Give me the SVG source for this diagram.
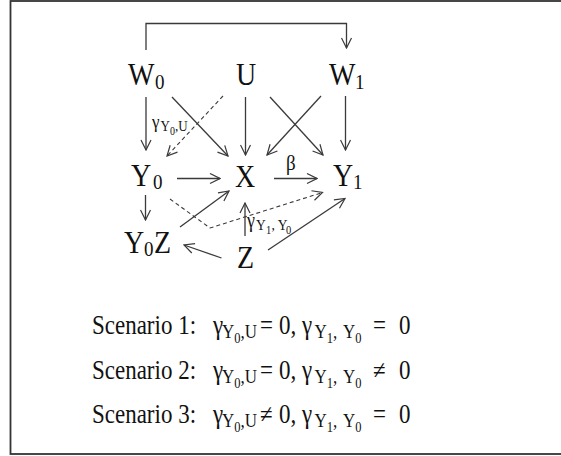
<svg xmlns="http://www.w3.org/2000/svg" width="561" height="456" viewBox="0 0 561 456">
<style>
text{font-family:"Liberation Serif","Times New Roman",serif;fill:#111}
.big{font-size:28px}
.sub{font-size:19px}
.c{stroke:#3a3a3a;stroke-width:1.3;fill:none}
.d{stroke:#3a3a3a;stroke-width:1.1;fill:none;stroke-dasharray:4,3}
.s{font-size:23px}
.s1{font-size:17px}
.s2{font-size:12.5px}
</style>
<defs>
<marker id="ah" viewBox="-11 -6 12 12" refX="0" refY="0" markerWidth="12" markerHeight="12" orient="auto" markerUnits="userSpaceOnUse">
<path d="M-10,-5 L0,0 L-10,5" fill="none" stroke="#3a3a3a" stroke-width="1.2"/>
</marker>
</defs>
<rect x="10.5" y="1" width="560" height="453" fill="#fff" stroke="#333" stroke-width="1.8"/>

<g id="connectors">
<path class="c" d="M146,50 V23.5 H346.5 V48" marker-end="url(#ah)"/>
<line class="c" x1="146" y1="97" x2="146" y2="150" marker-end="url(#ah)"/>
<line class="c" x1="172" y1="97" x2="228" y2="156" marker-end="url(#ah)"/>
<line class="d" x1="223" y1="96" x2="167" y2="156" marker-end="url(#ah)"/>
<line class="c" x1="245.5" y1="97" x2="245.5" y2="155" marker-end="url(#ah)"/>
<line class="c" x1="270" y1="97" x2="323" y2="155" marker-end="url(#ah)"/>
<line class="c" x1="321" y1="96" x2="267" y2="155" marker-end="url(#ah)"/>
<line class="c" x1="345.5" y1="96" x2="345.5" y2="150" marker-end="url(#ah)"/>
<line class="c" x1="177" y1="178.5" x2="220" y2="178.5" marker-end="url(#ah)"/>
<line class="c" x1="274" y1="178.5" x2="317" y2="178.5" marker-end="url(#ah)"/>
<line class="c" x1="145.5" y1="195" x2="145.5" y2="220" marker-end="url(#ah)"/>
<line class="c" x1="180" y1="227" x2="229" y2="191" marker-end="url(#ah)"/>
<path class="d" d="M170,199 L210,228 L322.5,192.5" marker-end="url(#ah)"/>
<line class="c" x1="245" y1="236" x2="245" y2="203" marker-end="url(#ah)"/>
<line class="c" x1="221.5" y1="258" x2="184" y2="245" marker-end="url(#ah)"/>
<line class="c" x1="268" y1="250" x2="345" y2="198.5" marker-end="url(#ah)"/>
</g>

<g id="W0"><g transform="translate(0,85) scale(1,1.15)"><text class="big" x="128" y="0">W</text><text class="sub" x="155" y="3.5">0</text></g></g>
<g id="U"><g transform="translate(0,85) scale(1,1.15)"><text class="big" x="236" y="0">U</text></g></g>
<g id="W1"><g transform="translate(0,85) scale(1,1.15)"><text class="big" x="329" y="0">W</text><text class="sub" x="355" y="3.5">1</text></g></g>
<g id="Y0"><g transform="translate(0,186) scale(1,1.15)"><text class="big" x="131" y="0">Y</text><text class="sub" x="153" y="3">0</text></g></g>
<g id="X"><g transform="translate(0,187) scale(1,1.15)"><text class="big" x="235" y="0">X</text></g></g>
<g id="Y1"><g transform="translate(0,186) scale(1,1.15)"><text class="big" x="333" y="0">Y</text><text class="sub" x="353" y="3">1</text></g></g>
<g id="Y0Z"><g transform="translate(0,253) scale(1,1.15)"><text class="big" x="124" y="0">Y</text><text class="sub" x="144" y="3">0</text><text class="big" x="154" y="0">Z</text></g></g>
<g id="Z"><g transform="translate(0,268) scale(1,1.15)"><text class="big" x="237" y="0">Z</text></g></g>

<g id="labels">
<g transform="translate(0,170) scale(1,1.15)"><text x="286" y="0" style="font-size:19px">β</text></g>
<g transform="translate(0,128) scale(1,1.15)"><text x="152" y="0" style="font-size:17px">γ</text><text x="160.5" y="3" style="font-size:13px">Y</text><text x="170" y="6" style="font-size:10px">0</text><text x="175" y="3" style="font-size:13px">,U</text></g>
<g transform="translate(0,227) scale(1,1.15)"><text x="247" y="0" style="font-size:18px">γ</text><text x="256" y="3" style="font-size:13.5px">Y</text><text x="266" y="6.5" style="font-size:10.5px">1</text><text x="271.5" y="3" style="font-size:13.5px">, Y</text><text x="286" y="6.5" style="font-size:10.5px">0</text></g>
</g>

<g id="scenarios">
<g transform="translate(0,334) scale(1,1.15)">
<text class="s" x="92" y="0">Scenario 1:</text>
<text class="s" x="213" y="0">γ</text><text class="s1" x="222" y="3.3">Y</text><text class="s2" x="234.3" y="7.6">0</text><text class="s1" x="240.5" y="3.3">,U</text>
<text class="s" x="260" y="0">=</text><text class="s" x="279" y="0">0,</text>
<text class="s" x="302" y="0">γ</text><text class="s1" x="314.5" y="3.3">Y</text><text class="s2" x="326.8" y="7.6">1</text><text class="s1" x="333" y="3.3">,</text><text class="s1" x="343" y="3.3">Y</text><text class="s2" x="355.3" y="7.6">0</text>
<text class="s" x="373" y="0">=</text><text class="s" x="399" y="0">0</text>
</g>
<g transform="translate(0,379) scale(1,1.15)">
<text class="s" x="92" y="0">Scenario 2:</text>
<text class="s" x="213" y="0">γ</text><text class="s1" x="222" y="3.3">Y</text><text class="s2" x="234.3" y="7.6">0</text><text class="s1" x="240.5" y="3.3">,U</text>
<text class="s" x="260" y="0">=</text><text class="s" x="279" y="0">0,</text>
<text class="s" x="302" y="0">γ</text><text class="s1" x="314.5" y="3.3">Y</text><text class="s2" x="326.8" y="7.6">1</text><text class="s1" x="333" y="3.3">,</text><text class="s1" x="343" y="3.3">Y</text><text class="s2" x="355.3" y="7.6">0</text>
<text class="s" x="373" y="0">≠</text><text class="s" x="399" y="0">0</text>
</g>
<g transform="translate(0,423) scale(1,1.15)">
<text class="s" x="92" y="0">Scenario 3:</text>
<text class="s" x="213" y="0">γ</text><text class="s1" x="222" y="3.3">Y</text><text class="s2" x="234.3" y="7.6">0</text><text class="s1" x="240.5" y="3.3">,U</text>
<text class="s" x="260" y="0">≠</text><text class="s" x="279" y="0">0,</text>
<text class="s" x="302" y="0">γ</text><text class="s1" x="314.5" y="3.3">Y</text><text class="s2" x="326.8" y="7.6">1</text><text class="s1" x="333" y="3.3">,</text><text class="s1" x="343" y="3.3">Y</text><text class="s2" x="355.3" y="7.6">0</text>
<text class="s" x="373" y="0">=</text><text class="s" x="399" y="0">0</text>
</g>
</g>
</svg>
